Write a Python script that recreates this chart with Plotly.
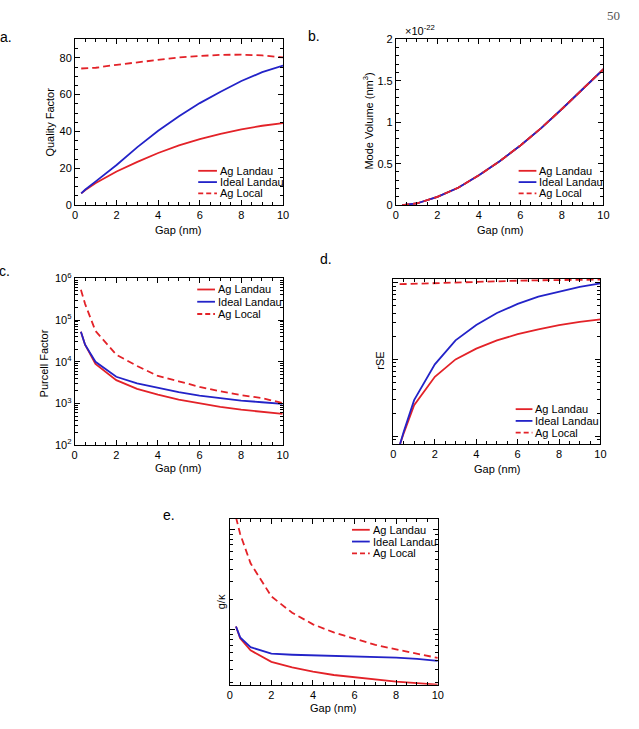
import plotly.graph_objects as go

W, H = 639, 729

# ---------------- data ----------------
gap = [0.3, 0.5, 1, 2, 3, 4, 5, 6, 7, 8, 9, 10]
series_names = ["Ag Landau", "Ideal Landau", "Ag Local"]

q_ag_landau = [6.4, 8.2, 12.0, 18.3, 23.5, 28.3, 32.4, 35.8, 38.7, 41.2, 43.1, 44.5]
q_ideal_landau = [6.4, 8.5, 12.9, 21.8, 31.5, 40.4, 48.3, 55.4, 61.6, 67.4, 72.2, 75.8]
q_ag_local = [74.2, 74.3, 74.6, 76.2, 77.6, 79.0, 80.2, 81.0, 81.6, 81.7, 81.3, 80.2]

# mode volume in units of 1e-22 nm^3
mv_ag_landau = [0.0, 0.006, 0.02, 0.10, 0.21, 0.36, 0.53, 0.72, 0.93, 1.16, 1.40, 1.64]
mv_ideal_landau = [0.0, 0.006, 0.02, 0.10, 0.21, 0.36, 0.53, 0.72, 0.93, 1.16, 1.40, 1.64]
mv_ag_local = [0.0, 0.006, 0.02, 0.10, 0.21, 0.36, 0.53, 0.72, 0.93, 1.16, 1.40, 1.64]

pf_ag_landau = [52500, 25700, 8910, 3630, 2240, 1620, 1230, 1000, 832, 708, 631, 562]
pf_ideal_landau = [52500, 25700, 10000, 4370, 3020, 2340, 1860, 1550, 1350, 1170, 1070, 977]
pf_ag_local = [537000, 245000, 55000, 14800, 7940, 4570, 3390, 2510, 1950, 1580, 1350, 1020]

rse_ag_landau = [0.0759, 0.110, 0.254, 0.594, 1.0, 1.38, 1.77, 2.13, 2.46, 2.80, 3.08, 3.33]
rse_ideal_landau = [0.0759, 0.115, 0.295, 0.863, 1.77, 2.80, 4.02, 5.28, 6.56, 7.67, 8.81, 9.77]
rse_ag_local = [9.53, 9.57, 9.66, 9.91, 10.1, 10.35, 10.47, 10.59, 10.72, 10.79, 10.86, 10.96]

gk_ag_landau = [1.079, 0.822, 0.624, 0.480, 0.422, 0.383, 0.355, 0.337, 0.322, 0.305, 0.294, 0.284]
gk_ideal_landau = [1.079, 0.841, 0.671, 0.578, 0.565, 0.557, 0.548, 0.545, 0.541, 0.528, 0.513, 0.490]
gk_ag_local = [13.2, 9.0, 4.6, 2.15, 1.48, 1.135, 0.942, 0.811, 0.708, 0.638, 0.578, 0.525]

x_ticks = [0, 2, 4, 6, 8, 10]
pf_tickvals = [1e2, 1e3, 1e4, 1e5, 1e6]
pf_ticktext = ["10<sup>2</sup>", "10<sup>3</sup>", "10<sup>4</sup>", "10<sup>5</sup>", "10<sup>6</sup>"]

# ---------------- styles ----------------
RED = "#e32228"
BLUE = "#2323c8"
FONT = "Liberation Sans"
LW = 1.8
styles = [dict(color=RED, width=LW, dash="solid"),
          dict(color=BLUE, width=LW, dash="solid"),
          dict(color=RED, width=LW, dash="7px,4px")]


def X(px):
    return px / W


def Y(py):
    return 1 - py / H


# panel pixel boxes: (left, right, top, bottom)
boxes = {
    1: (73, 284, 32, 201),
    2: (398.5, 609, 32, 201),
    3: (72.7, 283.7, 275.7, 445.7),
    4: (396, 606, 276, 444.7),
    5: (230, 441, 520.7, 690),
}

panels = {
    1: [q_ag_landau, q_ideal_landau, q_ag_local],
    2: [mv_ag_landau, mv_ideal_landau, mv_ag_local],
    3: [pf_ag_landau, pf_ideal_landau, pf_ag_local],
    4: [rse_ag_landau, rse_ideal_landau, rse_ag_local],
    5: [gk_ag_landau, gk_ideal_landau, gk_ag_local],
}

fig = go.Figure()
for p, ys in panels.items():
    suffix = "" if p == 1 else str(p)
    for name, yv, st in zip(series_names, ys, styles):
        fig.add_trace(go.Scatter(x=gap, y=yv, mode="lines", name=name,
                                 line=st, showlegend=False,
                                 xaxis="x" + suffix, yaxis="y" + suffix))

layout = dict(width=W, height=H, margin=dict(l=0, r=0, t=0, b=0),
              paper_bgcolor="white", plot_bgcolor="white",
              font=dict(family=FONT, size=11, color="black"))

common = dict(showline=True, linecolor="black", linewidth=1, mirror="ticks",
              ticks="inside", ticklen=5, tickcolor="black", tickwidth=1,
              showgrid=False, zeroline=False,
              tickfont=dict(family=FONT, size=11, color="black"))

for p, (l, r, t, b) in boxes.items():
    suffix = "" if p == 1 else str(p)
    layout["xaxis" + suffix] = dict(common, domain=[X(l), X(r)], range=[0, 10],
                                    tickmode="array", tickvals=x_ticks,
                                    minor=dict(ticks="inside", dtick=0.5, ticklen=3,
                                               tickcolor="black", showgrid=False),
                                    anchor="y" + suffix)
    yax = dict(common, domain=[Y(b), Y(t)], anchor="x" + suffix)
    if p == 1:
        yax.update(range=[0, 90], tickmode="array", tickvals=[0, 20, 40, 60, 80],
                   minor=dict(ticks="inside", dtick=5, ticklen=3, tickcolor="black", showgrid=False))
    elif p == 2:
        yax.update(range=[0, 2], tickmode="array", tickvals=[0, 0.5, 1, 1.5, 2],
                   ticktext=["0", "0.5", "1", "1.5", "2"],
                   minor=dict(ticks="inside", dtick=0.1, ticklen=3, tickcolor="black", showgrid=False))
    elif p == 3:
        yax.update(type="log", range=[2, 6], tickmode="array", tickvals=pf_tickvals,
                   ticktext=pf_ticktext,
                   minor=dict(ticks="inside", dtick="D1", ticklen=3, tickcolor="black", showgrid=False))
    elif p == 4:
        yax.update(type="log", range=[-1.103, 1.051], dtick=1, showticklabels=False,
                   minor=dict(ticks="inside", dtick="D1", ticklen=3, tickcolor="black", showgrid=False))
    else:
        yax.update(type="log", range=[-0.547, 1.107], dtick=1, showticklabels=False,
                   minor=dict(ticks="inside", dtick="D1", ticklen=3, tickcolor="black", showgrid=False))
    layout["yaxis" + suffix] = yax

annotations = []
shapes = []

# axis titles
ytitles = [("Quality Factor", 48, 116.5), ("Mode Volume (nm<sup>3</sup>)", 370, 115),
           ("Purcell Factor", 42, 362), ("rSE", 382, 360), ("g/κ", 222, 605)]
for txt, x, y in ytitles:
    annotations.append(dict(text=txt, x=X(x), y=Y(y), xref="paper", yref="paper",
                            showarrow=False, textangle=-90, xanchor="center", yanchor="middle",
                            font=dict(family=FONT, size=11, color="black")))
xtitles = [(178, 226), (504, 226), (178, 469), (501, 470), (335, 714)]
for x, y in xtitles:
    annotations.append(dict(text="Gap (nm)", x=X(x), y=Y(y), xref="paper", yref="paper",
                            showarrow=False, xanchor="center", yanchor="middle",
                            font=dict(family=FONT, size=11, color="black")))

# multiplier for panel b
annotations.append(dict(text="×10<sup>-22</sup>", x=X(406), y=Y(22), xref="paper", yref="paper",
                        showarrow=False, xanchor="left", yanchor="middle",
                        font=dict(family=FONT, size=11, color="black")))

# panel letters
letters = [("a.", 11, 30), ("b.", 307, 29), ("c.", 9, 268), ("d.", 320, 256), ("e.", 160, 517)]
for txt, x, y in letters:
    anchor = "right" if x < 20 else "left"
    annotations.append(dict(text=txt, x=X(x), y=Y(y), xref="paper", yref="paper",
                            showarrow=False, xanchor=anchor, yanchor="middle",
                            font=dict(family=FONT, size=14, color="black")))

# page number
annotations.append(dict(text="50", x=X(628), y=Y(8), xref="paper", yref="paper",
                        showarrow=False, xanchor="right", yanchor="middle",
                        font=dict(family="Liberation Serif", size=13, color="#555555")))

# manual legends: (sample x0, sample x1, rows y)
legends = [(198, 217, [166, 177.5, 189]),
           (523, 541, [166, 177.5, 189]),
           (197, 215, [287, 299.5, 312]),
           (520, 537, [409, 421, 433]),
           (354, 372, [532, 544, 556])]
for x0, x1, rows in legends:
    for name, st, yy in zip(series_names, styles, rows):
        solid = st["dash"] == "solid"
        shapes.append(dict(type="line", xref="paper", yref="paper",
                           x0=X(x0), x1=X(x1), y0=Y(yy), y1=Y(yy),
                           line=dict(color=st["color"], width=LW,
                                     dash="solid" if solid else "5px,3px")))
        annotations.append(dict(text=name, x=X(x1 + 1), y=Y(yy), xref="paper", yref="paper",
                                showarrow=False, xanchor="left", yanchor="middle",
                                font=dict(family=FONT, size=11, color="black")))

layout["annotations"] = annotations
layout["shapes"] = shapes
fig.update_layout(**layout)
fig.write_html("out.html")
